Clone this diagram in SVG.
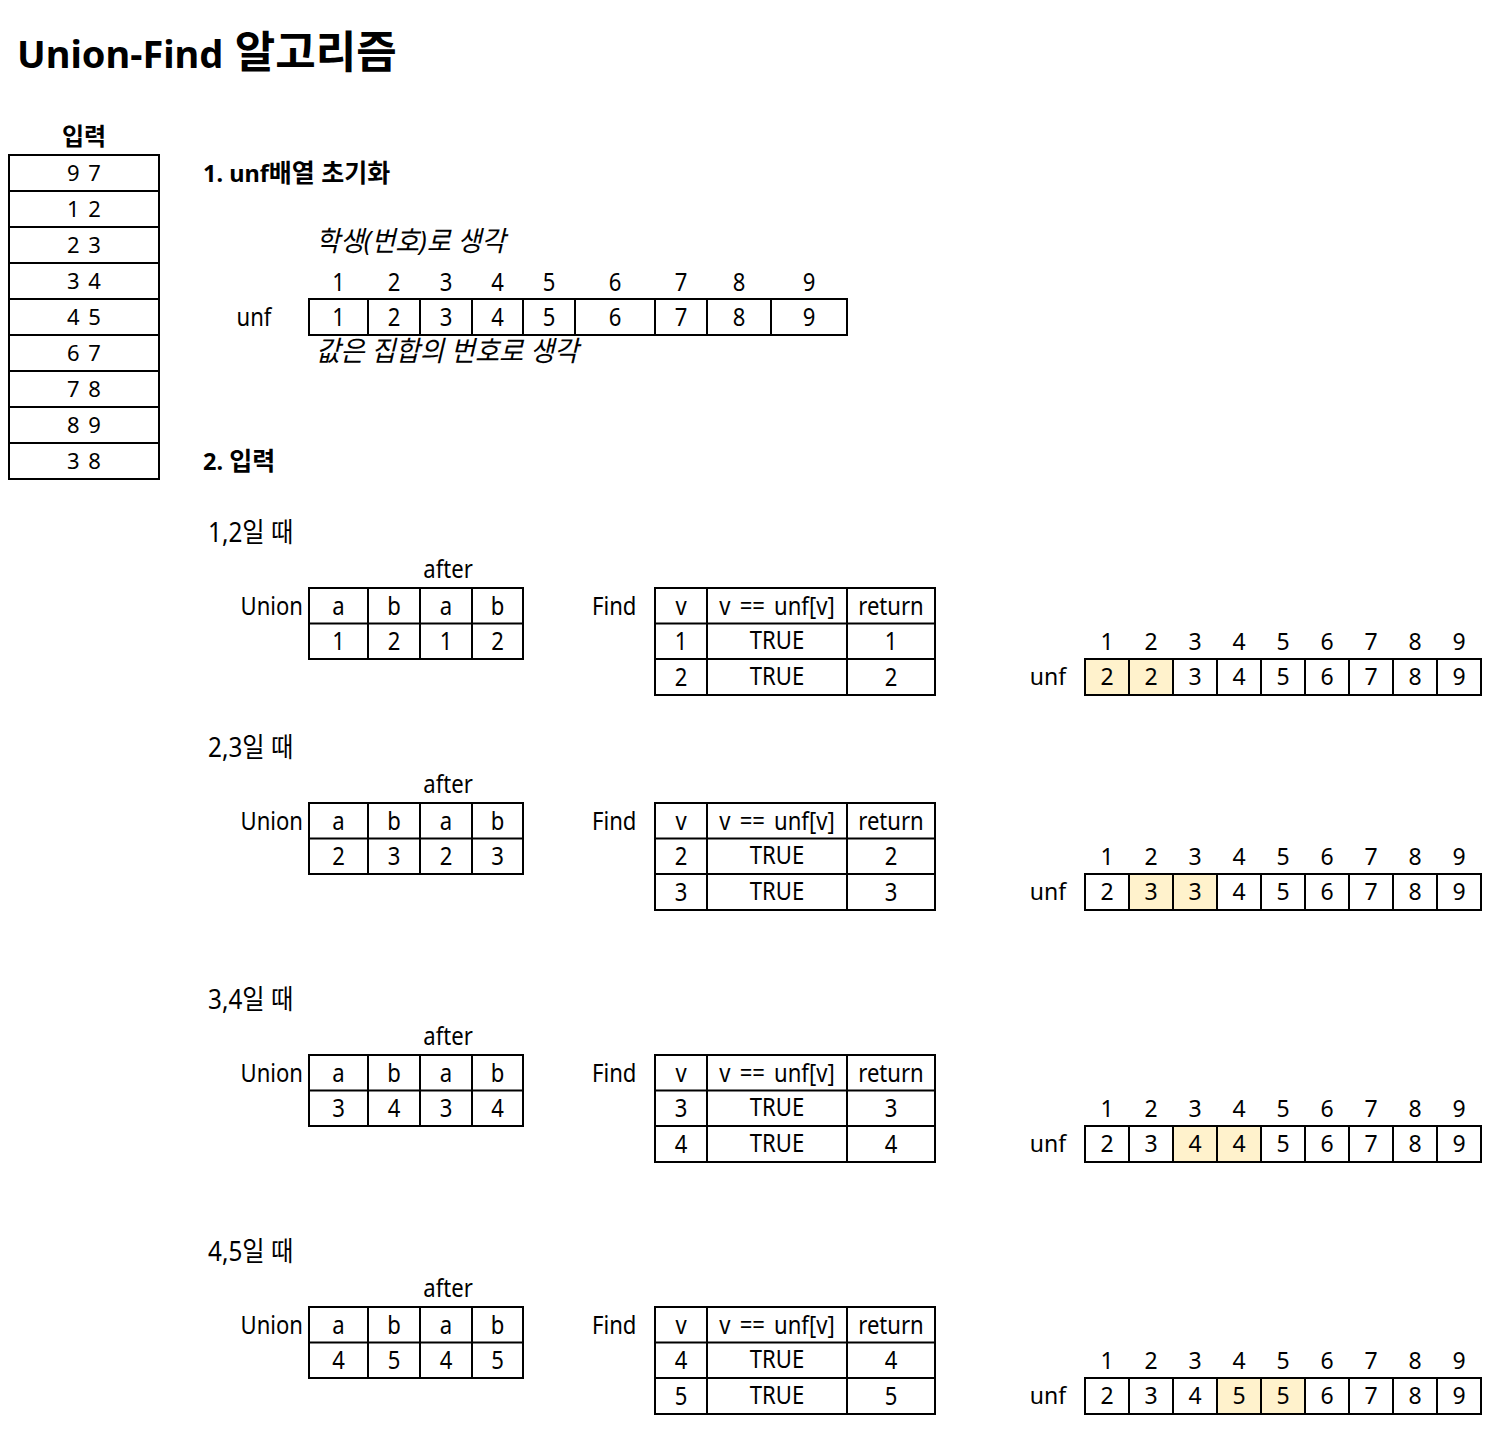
<svg xmlns="http://www.w3.org/2000/svg" width="1500" height="1442" viewBox="0 0 1500 1442">
<style>
text{font-family:"Noto Sans","Noto Sans CJK KR",sans-serif;fill:#000}
.n{font-size:22px;text-anchor:middle;word-spacing:3px}
.m{font-size:23px;text-anchor:middle}
.c{font-size:26px;text-anchor:middle}
.cs{font-size:26px}
.lb{font-size:27px}
.ce{font-size:26px;text-anchor:end}
.w{word-spacing:4px}
.b{font-weight:bold}
.i{font-style:italic;font-size:28px}
.cell{fill:#fff;stroke:#000;stroke-width:2}
.hl{fill:#FFF2CC;stroke:#000;stroke-width:2}
.ln{stroke:#000;stroke-width:2;fill:none}
</style>
<rect width="1500" height="1442" fill="#fff"/>
<g id="title"><text x="17" y="68" style="font-size:38px;font-weight:bold">Union-Find<tspan style="font-size:44px"> 알고리즘</tspan></text></g>

<g id="input-table">
<text class="b" x="84" y="145" style="font-size:24px;text-anchor:middle">입력</text>
<rect class="cell" x="9" y="155" width="150" height="324"/>
<path class="ln" d="M9 191H159M9 227H159M9 263H159M9 299H159M9 335H159M9 371H159M9 407H159M9 443H159"/>
<text class="n" x="84" y="181">9 7</text>
<text class="n" x="84" y="217">1 2</text>
<text class="n" x="84" y="253">2 3</text>
<text class="n" x="84" y="289">3 4</text>
<text class="n" x="84" y="325">4 5</text>
<text class="n" x="84" y="361">6 7</text>
<text class="n" x="84" y="397">7 8</text>
<text class="n" x="84" y="433">8 9</text>
<text class="n" x="84" y="469">3 8</text>
</g>

<g id="step1">
<text class="b" x="203" y="182" style="font-size:23.5px">1. unf<tspan style="font-size:25px">배열 초기화</tspan></text>
<text class="i" transform="translate(316 251) scale(.93 1)">학생(번호)로 생각</text>
<g id="init-header">
<text class="c" transform="translate(338.5 291) scale(.85 1)">1</text>
<text class="c" transform="translate(394 291) scale(.85 1)">2</text>
<text class="c" transform="translate(446 291) scale(.85 1)">3</text>
<text class="c" transform="translate(497.5 291) scale(.85 1)">4</text>
<text class="c" transform="translate(549 291) scale(.85 1)">5</text>
<text class="c" transform="translate(615 291) scale(.85 1)">6</text>
<text class="c" transform="translate(681 291) scale(.85 1)">7</text>
<text class="c" transform="translate(739 291) scale(.85 1)">8</text>
<text class="c" transform="translate(809 291) scale(.85 1)">9</text>
</g>
<text class="c" transform="translate(254 326) scale(.85 1)">unf</text>
<g id="init-unf">
<rect class="cell" x="309" y="299" width="538" height="36"/>
<path class="ln" d="M368 299V335M420 299V335M472 299V335M523 299V335M575 299V335M655 299V335M707 299V335M771 299V335"/>
<text class="c" transform="translate(338.5 326) scale(.85 1)">1</text>
<text class="c" transform="translate(394 326) scale(.85 1)">2</text>
<text class="c" transform="translate(446 326) scale(.85 1)">3</text>
<text class="c" transform="translate(497.5 326) scale(.85 1)">4</text>
<text class="c" transform="translate(549 326) scale(.85 1)">5</text>
<text class="c" transform="translate(615 326) scale(.85 1)">6</text>
<text class="c" transform="translate(681 326) scale(.85 1)">7</text>
<text class="c" transform="translate(739 326) scale(.85 1)">8</text>
<text class="c" transform="translate(809 326) scale(.85 1)">9</text>
</g>
<text class="i" transform="translate(316 361) scale(.94 1)">값은 집합의 번호로 생각</text>
</g>

<g id="step2"><text class="b" x="203" y="470" style="font-size:23.5px">2. <tspan style="font-size:25px">입력</tspan></text></g>

<g id="block1">
<text class="lb" transform="translate(208 542) scale(.9 1)">1,2일 때</text>
<text class="c" transform="translate(448 578) scale(.85 1)">after</text>
<text class="ce" transform="translate(303 615) scale(.85 1)">Union</text>
<g id="union1">
<rect class="cell" x="309" y="588" width="214" height="71"/>
<path class="ln" d="M309 623.5H523M368 588V659M420 588V659M472 588V659"/>
<text class="c" transform="translate(338.5 615) scale(.85 1)">a</text>
<text class="c" transform="translate(394 615) scale(.85 1)">b</text>
<text class="c" transform="translate(446 615) scale(.85 1)">a</text>
<text class="c" transform="translate(497.5 615) scale(.85 1)">b</text>
<text class="c" transform="translate(338.5 650) scale(.85 1)">1</text>
<text class="c" transform="translate(394 650) scale(.85 1)">2</text>
<text class="c" transform="translate(446 650) scale(.85 1)">1</text>
<text class="c" transform="translate(497.5 650) scale(.85 1)">2</text>
</g>
<text class="cs" transform="translate(592 615) scale(.85 1)">Find</text>
<g id="find1">
<rect class="cell" x="655" y="588" width="280" height="107"/>
<path class="ln" d="M655 623.5H935M655 659H935M707 588V695M847 588V695"/>
<text class="c" transform="translate(681 615) scale(.85 1)">v</text>
<text class="c w" transform="translate(777 615) scale(.85 1)">v == unf[v]</text>
<text class="c" transform="translate(891 615) scale(.85 1)">return</text>
<text class="c" transform="translate(681 650) scale(.85 1)">1</text>
<text class="c" transform="translate(777 649) scale(.85 1)">TRUE</text>
<text class="c" transform="translate(891 650) scale(.85 1)">1</text>
<text class="c" transform="translate(681 686) scale(.85 1)">2</text>
<text class="c" transform="translate(777 685) scale(.85 1)">TRUE</text>
<text class="c" transform="translate(891 686) scale(.85 1)">2</text>
</g>
<g id="unf1">
<text class="m" x="1107" y="650">1</text><text class="m" x="1151" y="650">2</text><text class="m" x="1195" y="650">3</text><text class="m" x="1239" y="650">4</text><text class="m" x="1283" y="650">5</text><text class="m" x="1327" y="650">6</text><text class="m" x="1371" y="650">7</text><text class="m" x="1415" y="650">8</text><text class="m" x="1459" y="650">9</text>
<text class="m" x="1048" y="685">unf</text>
<rect class="cell" x="1085" y="659" width="396" height="36"/>
<rect class="hl" x="1085" y="659" width="88" height="36"/>
<path class="ln" d="M1129 659V695M1173 659V695M1217 659V695M1261 659V695M1305 659V695M1349 659V695M1393 659V695M1437 659V695"/>
<text class="m" x="1107" y="685">2</text><text class="m" x="1151" y="685">2</text><text class="m" x="1195" y="685">3</text><text class="m" x="1239" y="685">4</text><text class="m" x="1283" y="685">5</text><text class="m" x="1327" y="685">6</text><text class="m" x="1371" y="685">7</text><text class="m" x="1415" y="685">8</text><text class="m" x="1459" y="685">9</text>
</g>
</g>

<g id="block2" transform="translate(0 215)">
<text class="lb" transform="translate(208 542) scale(.9 1)">2,3일 때</text>
<text class="c" transform="translate(448 578) scale(.85 1)">after</text>
<text class="ce" transform="translate(303 615) scale(.85 1)">Union</text>
<g id="union2">
<rect class="cell" x="309" y="588" width="214" height="71"/>
<path class="ln" d="M309 623.5H523M368 588V659M420 588V659M472 588V659"/>
<text class="c" transform="translate(338.5 615) scale(.85 1)">a</text>
<text class="c" transform="translate(394 615) scale(.85 1)">b</text>
<text class="c" transform="translate(446 615) scale(.85 1)">a</text>
<text class="c" transform="translate(497.5 615) scale(.85 1)">b</text>
<text class="c" transform="translate(338.5 650) scale(.85 1)">2</text>
<text class="c" transform="translate(394 650) scale(.85 1)">3</text>
<text class="c" transform="translate(446 650) scale(.85 1)">2</text>
<text class="c" transform="translate(497.5 650) scale(.85 1)">3</text>
</g>
<text class="cs" transform="translate(592 615) scale(.85 1)">Find</text>
<g id="find2">
<rect class="cell" x="655" y="588" width="280" height="107"/>
<path class="ln" d="M655 623.5H935M655 659H935M707 588V695M847 588V695"/>
<text class="c" transform="translate(681 615) scale(.85 1)">v</text>
<text class="c w" transform="translate(777 615) scale(.85 1)">v == unf[v]</text>
<text class="c" transform="translate(891 615) scale(.85 1)">return</text>
<text class="c" transform="translate(681 650) scale(.85 1)">2</text>
<text class="c" transform="translate(777 649) scale(.85 1)">TRUE</text>
<text class="c" transform="translate(891 650) scale(.85 1)">2</text>
<text class="c" transform="translate(681 686) scale(.85 1)">3</text>
<text class="c" transform="translate(777 685) scale(.85 1)">TRUE</text>
<text class="c" transform="translate(891 686) scale(.85 1)">3</text>
</g>
<g id="unf2">
<text class="m" x="1107" y="650">1</text><text class="m" x="1151" y="650">2</text><text class="m" x="1195" y="650">3</text><text class="m" x="1239" y="650">4</text><text class="m" x="1283" y="650">5</text><text class="m" x="1327" y="650">6</text><text class="m" x="1371" y="650">7</text><text class="m" x="1415" y="650">8</text><text class="m" x="1459" y="650">9</text>
<text class="m" x="1048" y="685">unf</text>
<rect class="cell" x="1085" y="659" width="396" height="36"/>
<rect class="hl" x="1129" y="659" width="88" height="36"/>
<path class="ln" d="M1129 659V695M1173 659V695M1217 659V695M1261 659V695M1305 659V695M1349 659V695M1393 659V695M1437 659V695"/>
<text class="m" x="1107" y="685">2</text><text class="m" x="1151" y="685">3</text><text class="m" x="1195" y="685">3</text><text class="m" x="1239" y="685">4</text><text class="m" x="1283" y="685">5</text><text class="m" x="1327" y="685">6</text><text class="m" x="1371" y="685">7</text><text class="m" x="1415" y="685">8</text><text class="m" x="1459" y="685">9</text>
</g>
</g>

<g id="block3" transform="translate(0 467)">
<text class="lb" transform="translate(208 542) scale(.9 1)">3,4일 때</text>
<text class="c" transform="translate(448 578) scale(.85 1)">after</text>
<text class="ce" transform="translate(303 615) scale(.85 1)">Union</text>
<g id="union3">
<rect class="cell" x="309" y="588" width="214" height="71"/>
<path class="ln" d="M309 623.5H523M368 588V659M420 588V659M472 588V659"/>
<text class="c" transform="translate(338.5 615) scale(.85 1)">a</text>
<text class="c" transform="translate(394 615) scale(.85 1)">b</text>
<text class="c" transform="translate(446 615) scale(.85 1)">a</text>
<text class="c" transform="translate(497.5 615) scale(.85 1)">b</text>
<text class="c" transform="translate(338.5 650) scale(.85 1)">3</text>
<text class="c" transform="translate(394 650) scale(.85 1)">4</text>
<text class="c" transform="translate(446 650) scale(.85 1)">3</text>
<text class="c" transform="translate(497.5 650) scale(.85 1)">4</text>
</g>
<text class="cs" transform="translate(592 615) scale(.85 1)">Find</text>
<g id="find3">
<rect class="cell" x="655" y="588" width="280" height="107"/>
<path class="ln" d="M655 623.5H935M655 659H935M707 588V695M847 588V695"/>
<text class="c" transform="translate(681 615) scale(.85 1)">v</text>
<text class="c w" transform="translate(777 615) scale(.85 1)">v == unf[v]</text>
<text class="c" transform="translate(891 615) scale(.85 1)">return</text>
<text class="c" transform="translate(681 650) scale(.85 1)">3</text>
<text class="c" transform="translate(777 649) scale(.85 1)">TRUE</text>
<text class="c" transform="translate(891 650) scale(.85 1)">3</text>
<text class="c" transform="translate(681 686) scale(.85 1)">4</text>
<text class="c" transform="translate(777 685) scale(.85 1)">TRUE</text>
<text class="c" transform="translate(891 686) scale(.85 1)">4</text>
</g>
<g id="unf3">
<text class="m" x="1107" y="650">1</text><text class="m" x="1151" y="650">2</text><text class="m" x="1195" y="650">3</text><text class="m" x="1239" y="650">4</text><text class="m" x="1283" y="650">5</text><text class="m" x="1327" y="650">6</text><text class="m" x="1371" y="650">7</text><text class="m" x="1415" y="650">8</text><text class="m" x="1459" y="650">9</text>
<text class="m" x="1048" y="685">unf</text>
<rect class="cell" x="1085" y="659" width="396" height="36"/>
<rect class="hl" x="1173" y="659" width="88" height="36"/>
<path class="ln" d="M1129 659V695M1173 659V695M1217 659V695M1261 659V695M1305 659V695M1349 659V695M1393 659V695M1437 659V695"/>
<text class="m" x="1107" y="685">2</text><text class="m" x="1151" y="685">3</text><text class="m" x="1195" y="685">4</text><text class="m" x="1239" y="685">4</text><text class="m" x="1283" y="685">5</text><text class="m" x="1327" y="685">6</text><text class="m" x="1371" y="685">7</text><text class="m" x="1415" y="685">8</text><text class="m" x="1459" y="685">9</text>
</g>
</g>

<g id="block4" transform="translate(0 719)">
<text class="lb" transform="translate(208 542) scale(.9 1)">4,5일 때</text>
<text class="c" transform="translate(448 578) scale(.85 1)">after</text>
<text class="ce" transform="translate(303 615) scale(.85 1)">Union</text>
<g id="union4">
<rect class="cell" x="309" y="588" width="214" height="71"/>
<path class="ln" d="M309 623.5H523M368 588V659M420 588V659M472 588V659"/>
<text class="c" transform="translate(338.5 615) scale(.85 1)">a</text>
<text class="c" transform="translate(394 615) scale(.85 1)">b</text>
<text class="c" transform="translate(446 615) scale(.85 1)">a</text>
<text class="c" transform="translate(497.5 615) scale(.85 1)">b</text>
<text class="c" transform="translate(338.5 650) scale(.85 1)">4</text>
<text class="c" transform="translate(394 650) scale(.85 1)">5</text>
<text class="c" transform="translate(446 650) scale(.85 1)">4</text>
<text class="c" transform="translate(497.5 650) scale(.85 1)">5</text>
</g>
<text class="cs" transform="translate(592 615) scale(.85 1)">Find</text>
<g id="find4">
<rect class="cell" x="655" y="588" width="280" height="107"/>
<path class="ln" d="M655 623.5H935M655 659H935M707 588V695M847 588V695"/>
<text class="c" transform="translate(681 615) scale(.85 1)">v</text>
<text class="c w" transform="translate(777 615) scale(.85 1)">v == unf[v]</text>
<text class="c" transform="translate(891 615) scale(.85 1)">return</text>
<text class="c" transform="translate(681 650) scale(.85 1)">4</text>
<text class="c" transform="translate(777 649) scale(.85 1)">TRUE</text>
<text class="c" transform="translate(891 650) scale(.85 1)">4</text>
<text class="c" transform="translate(681 686) scale(.85 1)">5</text>
<text class="c" transform="translate(777 685) scale(.85 1)">TRUE</text>
<text class="c" transform="translate(891 686) scale(.85 1)">5</text>
</g>
<g id="unf4">
<text class="m" x="1107" y="650">1</text><text class="m" x="1151" y="650">2</text><text class="m" x="1195" y="650">3</text><text class="m" x="1239" y="650">4</text><text class="m" x="1283" y="650">5</text><text class="m" x="1327" y="650">6</text><text class="m" x="1371" y="650">7</text><text class="m" x="1415" y="650">8</text><text class="m" x="1459" y="650">9</text>
<text class="m" x="1048" y="685">unf</text>
<rect class="cell" x="1085" y="659" width="396" height="36"/>
<rect class="hl" x="1217" y="659" width="88" height="36"/>
<path class="ln" d="M1129 659V695M1173 659V695M1217 659V695M1261 659V695M1305 659V695M1349 659V695M1393 659V695M1437 659V695"/>
<text class="m" x="1107" y="685">2</text><text class="m" x="1151" y="685">3</text><text class="m" x="1195" y="685">4</text><text class="m" x="1239" y="685">5</text><text class="m" x="1283" y="685">5</text><text class="m" x="1327" y="685">6</text><text class="m" x="1371" y="685">7</text><text class="m" x="1415" y="685">8</text><text class="m" x="1459" y="685">9</text>
</g>
</g>
</svg>
